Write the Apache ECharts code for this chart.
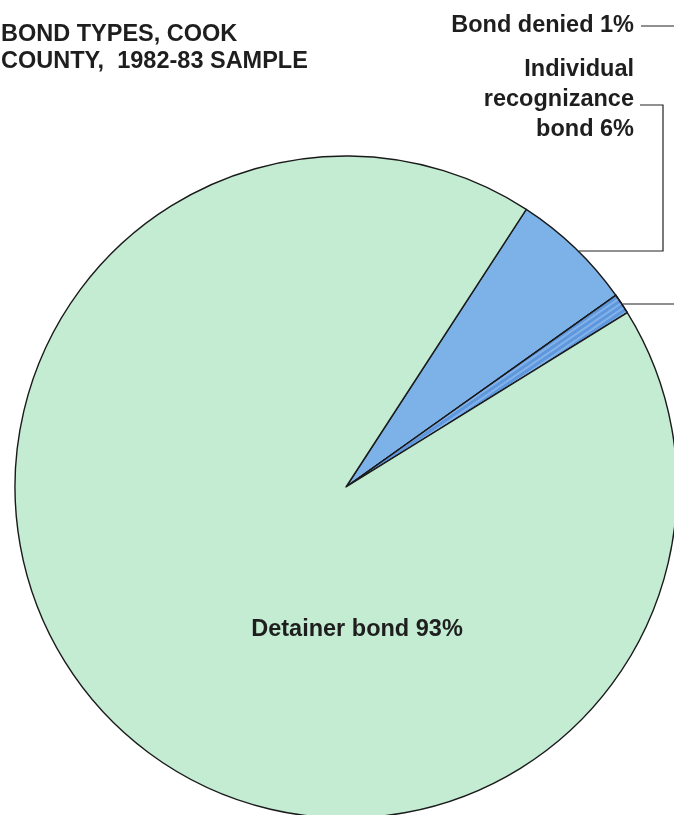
<!DOCTYPE html>
<html>
<head>
<meta charset="utf-8">
<script src="https://cdn.jsdelivr.net/npm/echarts@6/dist/echarts.min.js"></script>
<style>
html,body{margin:0;padding:0;background:#ffffff;}
#chart{width:674px;height:815px;}
</style>
</head>
<body>
<div id="chart"></div>
<script>
const titleLines = ['BOND TYPES, COOK', 'COUNTY,  1982-83 SAMPLE'];
const categories = ['Individual\nrecognizance\nbond', 'Bond denied', 'Detainer bond'];
const values = [6, 1, 93];
const sliceColors = ['#7db2e8', '#5e97dc', '#c3ecd2'];

const FONT = '"Liberation Sans", Arial, Helvetica, sans-serif';

// label placement (annotation layout)
const labelPlaces = [
  { x: 634, y: 100, align: 'right', verticalAlign: 'middle',
    labelLinePoints: [[579, 251], [663, 251], [663, 105], [640, 105]] },
  { x: 634, y: 26, align: 'right', verticalAlign: 'middle',
    labelLinePoints: [[623, 304], [700, 304], [700, 26], [641, 26]] },
  { x: 357, y: 630, align: 'center', verticalAlign: 'middle' }
];

const chart = echarts.init(document.getElementById('chart'), null, { renderer: 'canvas' });

const data = categories.map((name, i) => ({
  name: name,
  value: values[i],
  itemStyle: Object.assign({ color: sliceColors[i] }, i === 1 ? {
    decal: {
      symbol: 'rect',
      symbolSize: 1,
      dashArrayX: [1, 0],
      dashArrayY: [2, 3],
      rotation: -0.6,
      color: 'rgba(160,200,245,0.55)'
    }
  } : {}),
  labelLine: { show: i !== 2 }
}));

chart.setOption({
  backgroundColor: '#ffffff',
  animation: false,
  title: {
    text: titleLines.join('\n'),
    left: -4,
    top: 16,
    textStyle: {
      fontFamily: FONT,
      fontWeight: 'bold',
      fontSize: 23.5,
      lineHeight: 27,
      color: '#1e1e1e'
    }
  },
  series: [{
    type: 'pie',
    center: [346, 487],
    radius: 331,
    startAngle: 57,
    clockwise: true,
    avoidLabelOverlap: false,
    data: data,
    itemStyle: { borderColor: '#1a1a1a', borderWidth: 1.4 },
    label: {
      show: true,
      position: 'outside',
      formatter: p => p.name + ' ' + p.value + '%',
      fontFamily: FONT,
      fontWeight: 'bold',
      fontSize: 23.5,
      lineHeight: 30,
      color: '#1e1e1e'
    },
    labelLine: {
      show: true,
      lineStyle: { color: '#222222', width: 1.2 }
    },
    labelLayout: function (params) {
      return labelPlaces[params.dataIndex];
    },
    emphasis: { disabled: true }
  }]
});
</script>
</body>
</html>
